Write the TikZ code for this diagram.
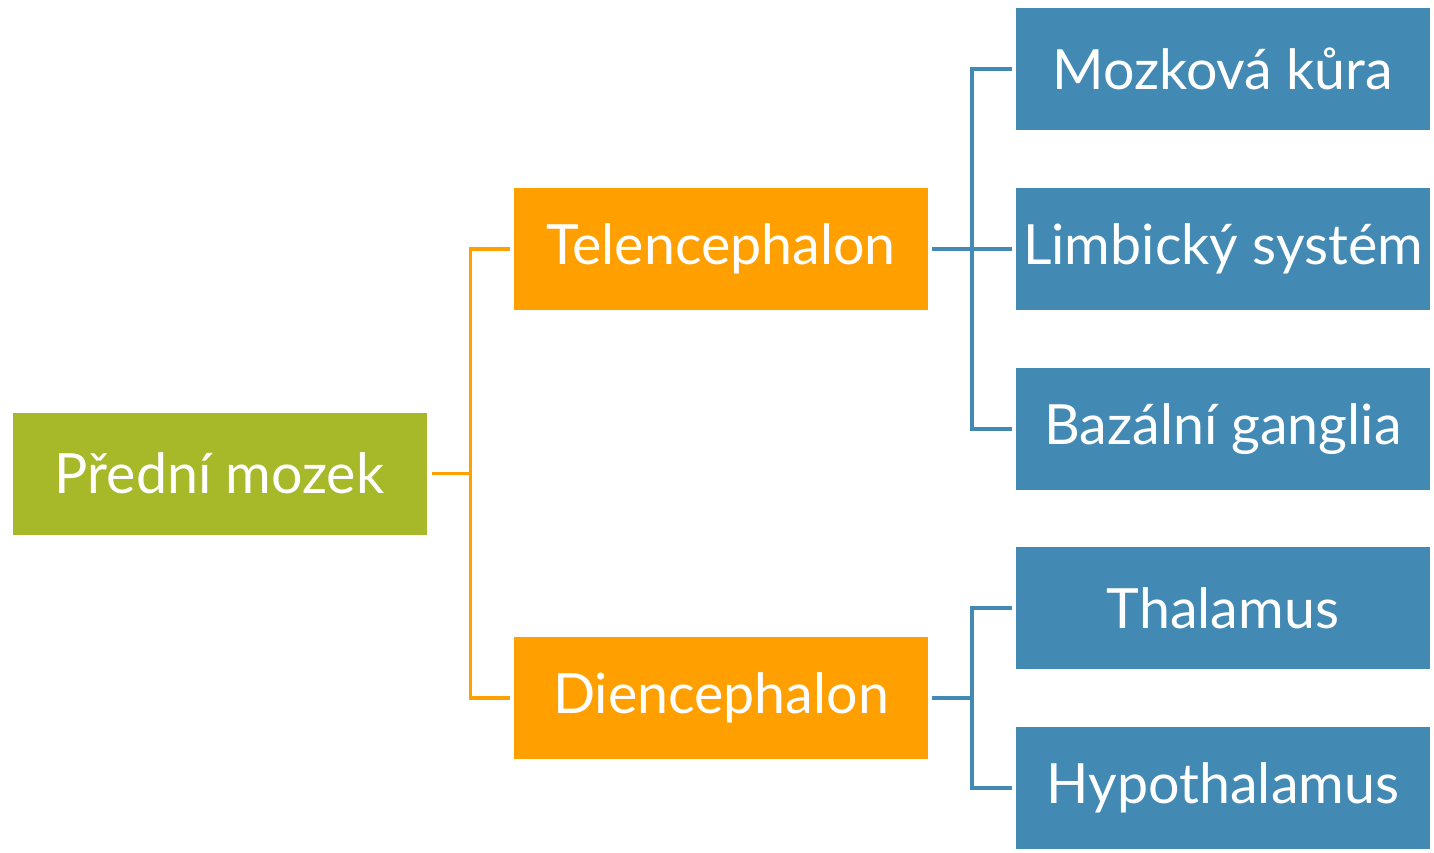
\documentclass[tikz,border=0pt]{standalone}
\usepackage{fontspec}
\setmainfont{Lato}
\usepackage{xcolor}
\usepackage{tikz}
\usetikzlibrary{positioning}
\definecolor{rootgreen}{HTML}{A7B829}
\definecolor{midorange}{HTML}{FF9F00}
\definecolor{leafblue}{HTML}{4289B4}

\begin{document}
\begin{tikzpicture}[x=1pt, y=-1pt, node distance=58pt]
\tikzstyle{box} = [rectangle, inner sep=0pt, outer sep=0pt, minimum width=414pt, minimum height=122pt, text=white, font=\fontsize{55.5}{60}\selectfont]
\tikzstyle{root} = [box, fill=rootgreen]
\tikzstyle{mid} = [box, fill=midorange]
\tikzstyle{leaf} = [box, fill=leafblue]
\tikzstyle{orangeline} = [draw=midorange, line width=3.5pt]
\tikzstyle{blueline} = [draw=leafblue, line width=3.5pt]
\useasboundingbox (0,0) rectangle (1434,852);
\node (root) [root] at (219.5,473.5) {Přední mozek};
\node (tel) [mid] at (721,249) {Telencephalon};
\node (dien) [mid] at (721,698) {Diencephalon};
\node (limb) [leaf, right=88pt of tel] {Limbický systém};
\node (cortex) [leaf, above=of limb] {Mozková kůra};
\node (basal) [leaf, below=of limb] {Bazální ganglia};
\node (thal) [leaf, right=88pt of dien, yshift=90pt] {Thalamus};
\node (hypo) [leaf, below=of thal] {Hypothalamus};
% forebrain split
\draw [orangeline] ([xshift=5pt]root.east) -- ([xshift=44pt]root.east);
\draw [orangeline] ([xshift=-4pt]tel.west) -| ([xshift=44pt]root.east) |- ([xshift=-4pt]dien.west);
% telencephalon
\draw [blueline] ([xshift=4pt]tel.east) -- ([xshift=-4pt]limb.west);
\draw [blueline] ([xshift=-4pt]cortex.west) -| ([xshift=44pt]tel.east) |- ([xshift=-4pt]basal.west);
% diencephalon
\draw [blueline] ([xshift=4pt]dien.east) -- ([xshift=44pt]dien.east);
\draw [blueline] ([xshift=-4pt]thal.west) -| ([xshift=44pt]dien.east) |- ([xshift=-4pt]hypo.west);
\end{tikzpicture}
\end{document}
